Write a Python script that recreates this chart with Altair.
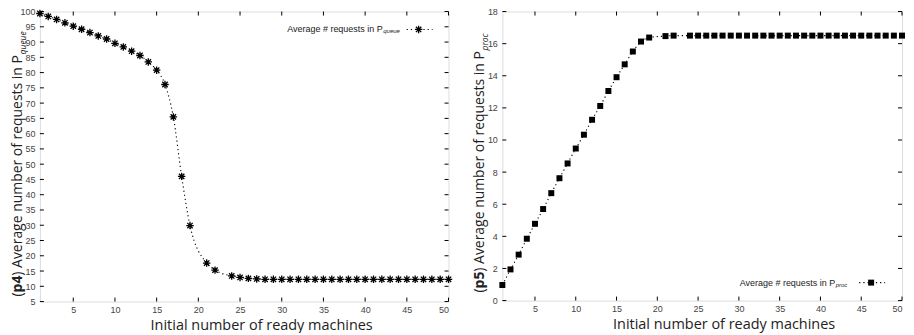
import altair as alt
import pandas as pd

# ---------------- data ----------------
x_vals = [1, 2, 3, 4, 5, 6, 7, 8, 9, 10, 11, 12, 13, 14, 15, 16, 17, 18, 19,
          21, 22, 24, 25, 26, 27, 28, 29, 30, 31, 32, 33, 34, 35, 36, 37, 38,
          39, 40, 41, 42, 43, 44, 45, 46, 47, 48, 49, 50]
queue_vals = [99.35, 98.4, 97.4, 96.3, 95.2, 94.2, 93.1, 92.0, 91.0, 89.6,
              88.4, 87.0, 85.6, 83.5, 80.8, 76.1, 65.5, 46.0, 29.9,
              17.6, 15.3, 13.4, 12.9, 12.6, 12.4, 12.3, 12.3, 12.3, 12.3,
              12.3, 12.3, 12.3, 12.3, 12.3, 12.3, 12.3, 12.3, 12.3, 12.3,
              12.3, 12.3, 12.3, 12.3, 12.3, 12.3, 12.3, 12.3, 12.3]
proc_vals = [0.97, 1.94, 2.86, 3.85, 4.78, 5.70, 6.69, 7.62, 8.54, 9.47,
             10.33, 11.26, 12.12, 13.05, 13.91, 14.71, 15.51, 16.13, 16.38,
             16.47, 16.5, 16.5, 16.5, 16.5, 16.5, 16.5, 16.5, 16.5, 16.5,
             16.5, 16.5, 16.5, 16.5, 16.5, 16.5, 16.5, 16.5, 16.5, 16.5,
             16.5, 16.5, 16.5, 16.5, 16.5, 16.5, 16.5, 16.5, 16.5]
x_ticks = [5, 10, 15, 20, 25, 30, 35, 40, 45, 50]
queue_ticks = [5, 10, 15, 20, 25, 30, 35, 40, 45, 50, 55, 60, 65, 70, 75,
               80, 85, 90, 95, 100]
proc_ticks = [0, 2, 4, 6, 8, 10, 12, 14, 16, 18]
x_title = "Initial number of ready machines"
legend_main = "Average # requests in P"

STAR = "M-1,0L1,0M0,-1L0,1M-0.72,-0.72L0.72,0.72M-0.72,0.72L0.72,-0.72"
TITLE_FONT = "Open Sans"
TICK_FONT = "Liberation Sans"


def one():
    return alt.Chart(pd.DataFrame({"a": [0]}))


def panel(yvals, yticks, ydomain, W, H, tag, sub, marker, legend_y, title_y0,
          lx_end):
    df = pd.DataFrame({"x": x_vals, "y": yvals})
    xaxis = alt.Axis(values=x_ticks, ticks=False, domain=False, grid=False,
                     labelFont=TICK_FONT, labelFontSize=9, labelColor="#444",
                     labelPadding=4, title=x_title, titleFont=TITLE_FONT,
                     titleFontSize=14.5, titleFontWeight="normal",
                     titleColor="#222", titleX=222, titleY=28,
                     titleAlign="center", titleBaseline="alphabetic")
    yaxis = alt.Axis(values=yticks, ticks=False, domain=False, grid=False,
                     labelFont=TICK_FONT, labelFontSize=9, labelColor="#444",
                     labelPadding=5, title=None)
    xs = alt.Scale(domain=[1, 50], nice=False, zero=False)
    ys = alt.Scale(domain=ydomain, nice=False, zero=False)

    def X(f):
        return alt.X(f, type="quantitative", scale=xs, axis=xaxis)

    def Y(f):
        return alt.Y(f, type="quantitative", scale=ys, axis=yaxis)

    base = alt.Chart(df)
    line = base.mark_line(color="black", strokeWidth=1.1, strokeDash=[1.2, 3],
                          interpolate="monotone").encode(x=X("x"), y=Y("y"))
    if marker == "star":
        pts = base.mark_point(shape=STAR, filled=False, color="black",
                              strokeWidth=1.3, size=56, opacity=1).encode(
            x=X("x"), y=Y("y"))
    else:
        pts = base.mark_square(color="black", size=36, opacity=1).encode(
            x=X("x"), y=Y("y"))

    xt = alt.Chart(pd.DataFrame({"v": x_ticks}))
    yt = alt.Chart(pd.DataFrame({"v": yticks}))
    tick_top = xt.mark_rule(color="black").encode(
        x=X("v"), y=alt.value(0), y2=alt.value(4))
    tick_bot = xt.mark_rule(color="black").encode(
        x=X("v"), y=alt.value(H), y2=alt.value(H - 4))
    tick_l = yt.mark_rule(color="black").encode(
        y=Y("v"), x=alt.value(0), x2=alt.value(4))
    tick_r = yt.mark_rule(color="black").encode(
        y=Y("v"), x=alt.value(W - 4), x2=alt.value(W))

    # rotated y title: "(" + bold tag + ") Average number of requests in P" + subscript
    tx = -18
    y0 = title_y0
    t1 = one().mark_text(font=TITLE_FONT, fontSize=14, angle=270, align="left",
                         baseline="alphabetic", color="#222").encode(
        x=alt.value(tx), y=alt.value(y0), text=alt.value("("))
    t2 = one().mark_text(font=TITLE_FONT, fontSize=14, fontWeight="bold",
                         angle=270, align="left", baseline="alphabetic",
                         color="#222").encode(
        x=alt.value(tx), y=alt.value(y0 - 4.2), text=alt.value(tag))
    t3 = one().mark_text(font=TITLE_FONT, fontSize=14, angle=270, align="left",
                         baseline="alphabetic", color="#222").encode(
        x=alt.value(tx), y=alt.value(y0 - 21.0),
        text=alt.value(") Average number of requests in P"))
    t4 = one().mark_text(font=TITLE_FONT, fontSize=8.5, fontStyle="italic",
                         angle=270, align="left", baseline="alphabetic",
                         color="#222").encode(
        x=alt.value(tx + 4), y=alt.value(y0 - 21.0 - 222),
        text=alt.value(sub))

    # legend
    l1 = one().mark_text(font=TICK_FONT, fontSize=9, align="right",
                         baseline="middle", color="#222").encode(
        x=alt.value(lx_end), y=alt.value(legend_y), text=alt.value(legend_main))
    l2 = one().mark_text(font=TICK_FONT, fontSize=6, fontStyle="italic",
                         align="left", baseline="middle", color="#222").encode(
        x=alt.value(lx_end + 0.5), y=alt.value(legend_y + 2),
        text=alt.value(sub))
    l3 = one().mark_rule(color="black", strokeWidth=1.1,
                         strokeDash=[1.2, 3]).encode(
        x=alt.value(lx_end + 24), x2=alt.value(lx_end + 50),
        y=alt.value(legend_y))
    if marker == "star":
        l4 = one().mark_point(shape=STAR, filled=False, color="black",
                              strokeWidth=1.3, size=56, opacity=1).encode(
            x=alt.value(lx_end + 36), y=alt.value(legend_y))
    else:
        l4 = one().mark_square(color="black", size=36, opacity=1).encode(
            x=alt.value(lx_end + 36), y=alt.value(legend_y))

    return alt.layer(line, pts, tick_top, tick_bot, tick_l, tick_r,
                     t1, t2, t3, t4, l1, l2, l3, l4).properties(
        width=W, height=H)


left = panel(queue_vals, queue_ticks, [5, 100], 410, 291, "p4", "queue",
             "star", 18, 286, 344)
right = panel(proc_vals, proc_ticks, [0, 18], 401, 290, "p5", "proc",
              "square", 290 - 18, 282, 334)

chart = alt.hconcat(left, right, spacing=54, bounds="flush").properties(
    padding={"left": 2, "top": -2, "right": 0, "bottom": 0}
).configure_view(stroke="black", strokeWidth=1).configure(
    background="white")

chart.save("out.html", embed_options={"renderer": "svg", "actions": False})
